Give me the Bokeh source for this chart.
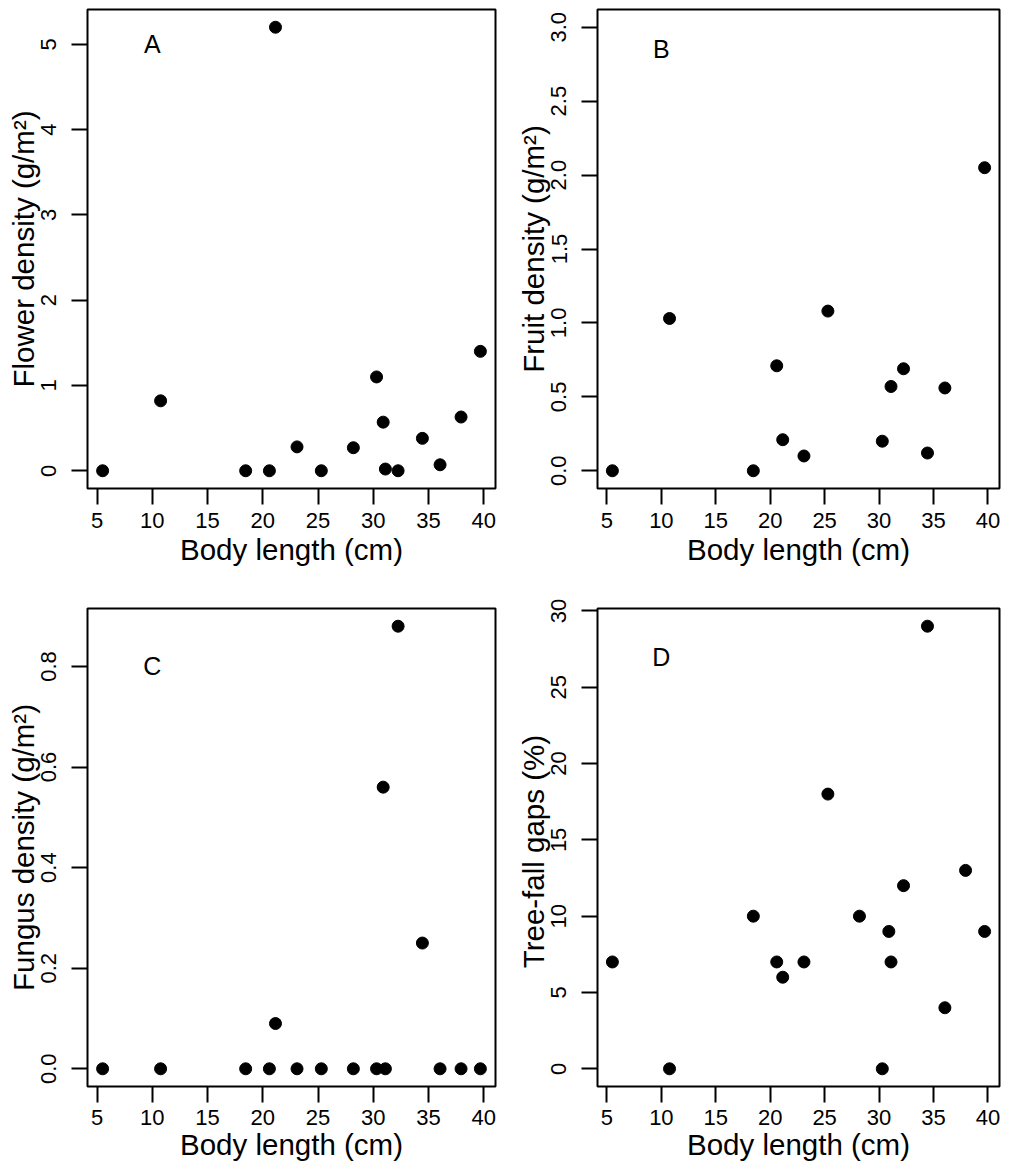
from bokeh.plotting import figure
from bokeh.models import Range1d, FixedTicker, PrintfTickFormatter, ColumnDataSource
from bokeh.layouts import column, row
from bokeh.core.properties import value
from bokeh.embed import file_html
from bokeh.resources import INLINE

nan = float("nan")

# ---- data ----
body_length = [5.5, 10.75, 18.45, 20.6, 21.15, 23.1, 25.3, 28.2, 30.3, 30.9, 31.1, 32.25, 34.45, 36.05, 37.95, 39.7]
flower_density = [0, 0.82, 0, 0, 5.2, 0.28, 0, 0.27, 1.10, 0.57, 0.02, 0, 0.38, 0.07, 0.63, 1.40]
fruit_density = [0, 1.03, 0, 0.71, 0.21, 0.10, 1.08, nan, 0.20, nan, 0.57, 0.69, 0.12, 0.56, nan, 2.05]
fungus_density = [0, 0, 0, 0, 0.09, 0, 0, 0, 0, 0.56, 0, 0.88, 0.25, 0, 0, 0]
treefall_gaps = [7, 0, 10, 7, 6, 7, 18, 10, 0, 9, 7, 12, 29, 4, 13, 9]

x_ticks = [5, 10, 15, 20, 25, 30, 35, 40]
flower_ticks = [0, 1, 2, 3, 4, 5]
fruit_ticks = [0.0, 0.5, 1.0, 1.5, 2.0, 2.5, 3.0]
fungus_ticks = [0.0, 0.2, 0.4, 0.6, 0.8]
gaps_ticks = [0, 5, 10, 15, 20, 25, 30]
fruit_ylim = [0, 3]

panel_letters = ["A", "B", "C", "D"]
letter_y = [5, 2.85, 0.8, 27]
letter_x = 10

x_title = "Body length (cm)"
y_titles = ["Flower density (g/m\u00b2)", "Fruit density (g/m\u00b2)",
            "Fungus density (g/m\u00b2)", "Tree-fall gaps  (%)"]

FONT = "Liberation Sans"


def padded(lo, hi):
    span = hi - lo
    return lo - 0.04 * span, hi + 0.04 * span


def make_panel(yvals, ylim, yticks, yfmt, ytitle, letter, ly,
               width, height, left, right, top, bottom, xlab_standoff, xtitle_standoff):
    xlo, xhi = padded(min(body_length), max(body_length))
    ylo, yhi = padded(ylim[0], ylim[1])
    p = figure(width=width, height=height, output_backend="svg", toolbar_location=None,
               x_range=Range1d(xlo, xhi), y_range=Range1d(ylo, yhi),
               min_border_left=left, min_border_right=right,
               min_border_top=top, min_border_bottom=bottom)
    p.background_fill_color = "white"
    p.border_fill_color = "white"
    p.outline_line_color = "black"
    p.outline_line_width = 2
    p.outline_line_alpha = 1.0
    p.xgrid.visible = False
    p.ygrid.visible = False

    for ax in (p.xaxis[0], p.yaxis[0]):
        ax.axis_line_color = None
        ax.major_tick_out = 16
        ax.major_tick_in = 0
        ax.minor_tick_out = 0
        ax.minor_tick_in = 0
        ax.major_tick_line_color = "black"
        ax.major_tick_line_width = 2
        ax.major_label_text_font = FONT
        ax.major_label_text_font_size = "22px"
        ax.major_label_text_color = "black"
        ax.axis_label_text_font = FONT
        ax.axis_label_text_font_size = "29.5px"
        ax.axis_label_text_font_style = "normal"
        ax.axis_label_text_color = "black"

    p.xaxis[0].ticker = FixedTicker(ticks=x_ticks)
    p.xaxis[0].axis_label = x_title
    p.xaxis[0].major_label_standoff = xlab_standoff
    p.xaxis[0].axis_label_standoff = xtitle_standoff

    p.yaxis[0].ticker = FixedTicker(ticks=yticks)
    if yfmt:
        p.yaxis[0].formatter = PrintfTickFormatter(format=yfmt)
    p.yaxis[0].axis_label = ytitle
    p.yaxis[0].major_label_orientation = "vertical"
    p.yaxis[0].major_label_standoff = 15
    p.yaxis[0].axis_label_standoff = -1

    src = ColumnDataSource(dict(x=body_length, y=yvals))
    p.scatter("x", "y", source=src, size=12, color="black", line_color="black")

    p.text(x=[letter_x], y=[ly], text=[letter], text_font=value(FONT),
           text_font_size="25px", text_align="center", text_baseline="middle",
           text_color="black")
    return p


pA = make_panel(flower_density, [min(flower_density), max(flower_density)], flower_ticks, None,
                y_titles[0], panel_letters[0], letter_y[0], 505, 590, 87, 10, 9, 102, 8, 2)
pB = make_panel(fruit_density, fruit_ylim, fruit_ticks, "%.1f",
                y_titles[1], panel_letters[1], letter_y[1], 504, 590, 92, 10, 9, 102, 8, 2)
pC = make_panel(fungus_density, [min(fungus_density), max(fungus_density)], fungus_ticks, "%.1f",
                y_titles[2], panel_letters[2], letter_y[2], 505, 579, 87, 10, 18, 83, 7, 0)
pD = make_panel(treefall_gaps, [min(treefall_gaps), max(treefall_gaps)], gaps_ticks, None,
                y_titles[3], panel_letters[3], letter_y[3], 504, 579, 92, 10, 18, 83, 7, 0)

layout = column(row(pA, pB), row(pC, pD))

open("out.html", "w").write(file_html(layout, INLINE))
